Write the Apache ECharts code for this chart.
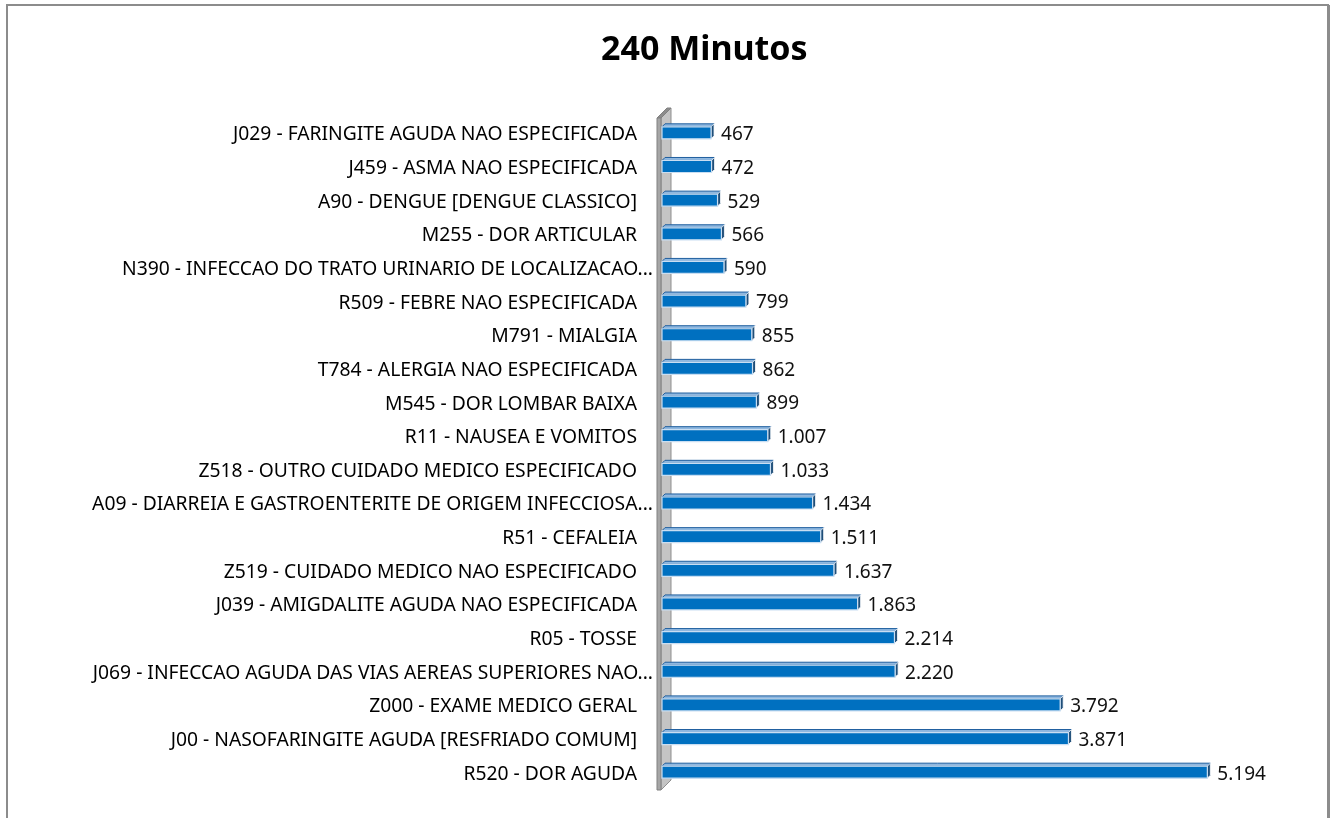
<!DOCTYPE html>
<html>
<head>
<meta charset="utf-8">
<script src="https://cdn.jsdelivr.net/npm/echarts@6/dist/echarts.min.js"></script>
<style>
  html, body { margin: 0; padding: 0; background: #fff; }
  #chart { width: 1335px; height: 818px; }
</style>
</head>
<body>
<div id="chart"></div>
<script>
// categories top to bottom, as in the picture
const categories = [
  "J029 - FARINGITE AGUDA NAO ESPECIFICADA",
  "J459 - ASMA NAO ESPECIFICADA",
  "A90 - DENGUE [DENGUE CLASSICO]",
  "M255 - DOR ARTICULAR",
  "N390 - INFECCAO DO TRATO URINARIO DE LOCALIZACAO...",
  "R509 - FEBRE NAO ESPECIFICADA",
  "M791 - MIALGIA",
  "T784 - ALERGIA NAO ESPECIFICADA",
  "M545 - DOR LOMBAR BAIXA",
  "R11 - NAUSEA E VOMITOS",
  "Z518 - OUTRO CUIDADO MEDICO ESPECIFICADO",
  "A09 - DIARREIA E GASTROENTERITE DE ORIGEM INFECCIOSA...",
  "R51 - CEFALEIA",
  "Z519 - CUIDADO MEDICO NAO ESPECIFICADO",
  "J039 - AMIGDALITE AGUDA NAO ESPECIFICADA",
  "R05 - TOSSE",
  "J069 - INFECCAO AGUDA DAS VIAS AEREAS SUPERIORES NAO...",
  "Z000 - EXAME MEDICO GERAL",
  "J00 - NASOFARINGITE AGUDA [RESFRIADO COMUM]",
  "R520 - DOR AGUDA",
];
const values = [467, 472, 529, 566, 590, 799, 855, 862, 899, 1007, 1033, 1434, 1511, 1637, 1863, 2214, 2220, 3792, 3871, 5194];

const fmt = (v) => String(v).replace(/\B(?=(\d{3})+(?!\d))/g, ".");

const chart = echarts.init(document.getElementById("chart"));
const D = 3; // 3d depth of bars

function renderBar(params, api) {
  const v = api.value(0);
  const p0 = api.coord([0, api.value(1)]);
  const p1 = api.coord([v, api.value(1)]);
  const x0 = p0[0], x1 = p1[0], c = p0[1];
  const t = c - 5, b = c + 7;
  return {
    type: "group",
    children: [
      { type: "polygon", shape: { points: [[x0, t], [x1, t], [x1 + D, t - D], [x0 + D, t - D]] },
        style: { fill: "#8fb8e0", stroke: "#1f5f9f", lineWidth: 1 } },
      { type: "polygon", shape: { points: [[x1, t], [x1 + D, t - D], [x1 + D, b - D], [x1, b]] },
        style: { fill: "#1f4e79", stroke: "#ffffff", lineWidth: 0.8 } },
      { type: "rect", shape: { x: x0, y: t, width: x1 - x0, height: b - t },
        style: { fill: "#0070c0", stroke: "#c9def2", lineWidth: 1.2 } },
      { type: "text", style: { x: x1 + 10, y: c + 3, text: fmt(v), fill: "#111",
        font: "19px 'Noto Sans'", verticalAlign: "middle", align: "left" } },
    ],
  };
}

function renderWall(params, api) {
  const cs = params.coordSys;
  const x = cs.x - 5, top = cs.y + 3, bot = cs.y + cs.height + 2, w = 4, d = 10;
  return {
    type: "group",
    children: [
      { type: "polygon", shape: { points: [[x + w, top], [x + w + d, top - d], [x + w + d, bot - d], [x + w, bot]] },
        style: { fill: "#c4c4c4", stroke: "#8f8f8f", lineWidth: 1 } },
      { type: "polygon", shape: { points: [[x, top], [x + d, top - d], [x + w + d, top - d], [x + w, top]] },
        style: { fill: "#8c8c8c", stroke: "#808080", lineWidth: 1 } },
      { type: "rect", shape: { x: x, y: top, width: w, height: bot - top },
        style: { fill: "#a6a6a6", stroke: "#808080", lineWidth: 1 } },
    ],
  };
}

const option = {
  animation: false,
  title: {
    text: "240 Minutos",
    left: 596,
    top: 28,
    textStyle: { fontFamily: "Noto Sans", fontWeight: "bold", fontSize: 34, color: "#000" },
  },
  graphic: [
    { type: "rect", shape: { x: 7, y: 5, width: 1321, height: 840 },
      style: { fill: null, stroke: "#8c8c8c", lineWidth: 2 } },
    { type: "line", shape: { x1: 1329, y1: 5, x2: 1329, y2: 818 },
      style: { stroke: "#8c8c8c", lineWidth: 2 } },
  ],
  grid: { left: 662, top: 115, width: 630, height: 673 },
  xAxis: {
    type: "value",
    min: 0,
    max: 6000,
    show: false,
  },
  yAxis: {
    type: "category",
    inverse: true,
    data: categories,
    axisLine: { show: false },
    axisTick: { show: false },
    axisLabel: {
      margin: 9,
      formatter: (s) => (s.endsWith("...") ? "{t|" + s + "}" : "{n|" + s + "}"),
      rich: {
        n: { fontFamily: "Noto Sans", fontSize: 19.3, color: "#000", padding: [6, 16, 0, 0] },
        t: { fontFamily: "Noto Sans", fontSize: 19.3, color: "#000", padding: [6, 0, 0, 0] },
      },
    },
  },
  series: [
    {
      type: "custom",
      renderItem: renderWall,
      data: [[0, 0]],
      silent: true,
      z: 1,
    },
    {
      type: "custom",
      renderItem: renderBar,
      encode: { x: 0, y: 1 },
      data: values.map((v, i) => [v, i]),
      z: 2,
    },
  ],
};

chart.setOption(option);
</script>
</body>
</html>
